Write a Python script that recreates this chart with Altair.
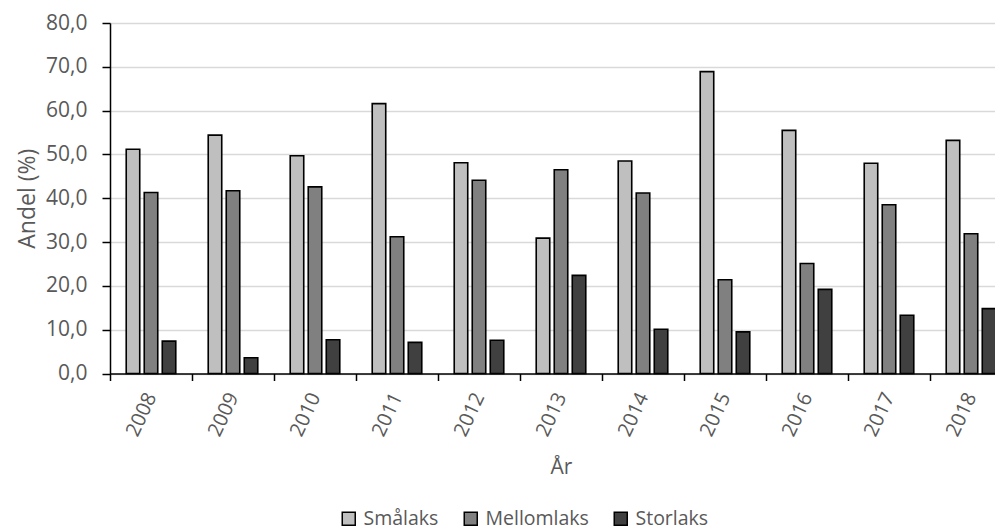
import altair as alt
import pandas as pd

years = ["2008", "2009", "2010", "2011", "2012", "2013", "2014", "2015", "2016", "2017", "2018"]
smalaks = [51.2, 54.4, 49.7, 61.6, 48.1, 30.9, 48.5, 68.9, 55.5, 48.0, 53.2]
mellomlaks = [41.3, 41.7, 42.6, 31.2, 44.1, 46.5, 41.2, 21.4, 25.1, 38.5, 31.9]
storlaks = [7.4, 3.6, 7.7, 7.1, 7.6, 22.4, 10.1, 9.5, 19.2, 13.3, 14.8]

series = ["Smålaks", "Mellomlaks", "Storlaks"]
colors = ["#bfbfbf", "#808080", "#404040"]
y_ticks = [0, 10, 20, 30, 40, 50, 60, 70, 80]

rows = []
for i, yr in enumerate(years):
    for s, vals in zip(series, [smalaks, mellomlaks, storlaks]):
        rows.append({"År": yr, "Serie": s, "Andel": vals[i]})
df = pd.DataFrame(rows)

FONT = "Open Sans"
TXT = "#595959"

chart = alt.Chart(df).mark_bar(stroke="black", strokeWidth=1.6).encode(
    x=alt.X(
        "År:N",
        sort=years,
        scale=alt.Scale(paddingInner=0, paddingOuter=0, range=[0, 902]),
        axis=alt.Axis(
            title="År",
            labelAngle=-65,
            labelFontSize=20,
            tickBand="extent",
            ticks=True,
            tickSize=7,
            tickWidth=1.5,
            tickColor="black",
            domainColor="black",
            domainWidth=1.5,
            grid=False,
            labelPadding=13,
            titlePadding=17,
            titleX=451,
        ),
    ),
    xOffset=alt.XOffset(
        "Serie:N",
        sort=series,
        scale=alt.Scale(paddingInner=0.25, paddingOuter=0.9),
    ),
    y=alt.Y(
        "Andel:Q",
        scale=alt.Scale(domain=[0, 80], nice=False),
        axis=alt.Axis(
            title="Andel (%)",
            values=y_ticks,
            labelExpr="replace(format(datum.value, '.1f'), '.', ',')",
            labelFontSize=21,
            titleFontSize=23,
            tickSize=8,
            tickWidth=1.5,
            tickColor="black",
            domainColor="black",
            domainWidth=1.5,
            grid=True,
            gridColor="#d9d9d9",
            gridWidth=1.5,
            labelPadding=15,
            titlePadding=6,
        ),
    ),
    color=alt.Color(
        "Serie:N",
        sort=series,
        scale=alt.Scale(domain=series, range=colors),
        legend=alt.Legend(
            title=None,
            orient="none",
            legendX=229,
            legendY=485.5,
            direction="horizontal",
            symbolType="square",
            symbolSize=169,
            symbolStrokeColor="black",
            symbolStrokeWidth=1.5,
            symbolOpacity=1,
            labelOffset=5,
            columnPadding=22,
            padding=0,
        ),
    ),
).properties(
    width=885,
    height=350.5,
    autosize=alt.AutoSizeParams(type="none"),
    padding={"left": 102, "top": 15, "right": 0, "bottom": 158},
).configure_view(
    stroke=None
).configure_axis(
    labelFont=FONT,
    titleFont=FONT,
    titleFontSize=21,
    labelColor=TXT,
    titleColor=TXT,
    titleFontWeight="normal",
).configure_legend(
    labelFont=FONT,
    labelFontSize=19.5,
    labelColor=TXT,
)

chart.save("out.html", embed_options={"renderer": "svg", "actions": False})
